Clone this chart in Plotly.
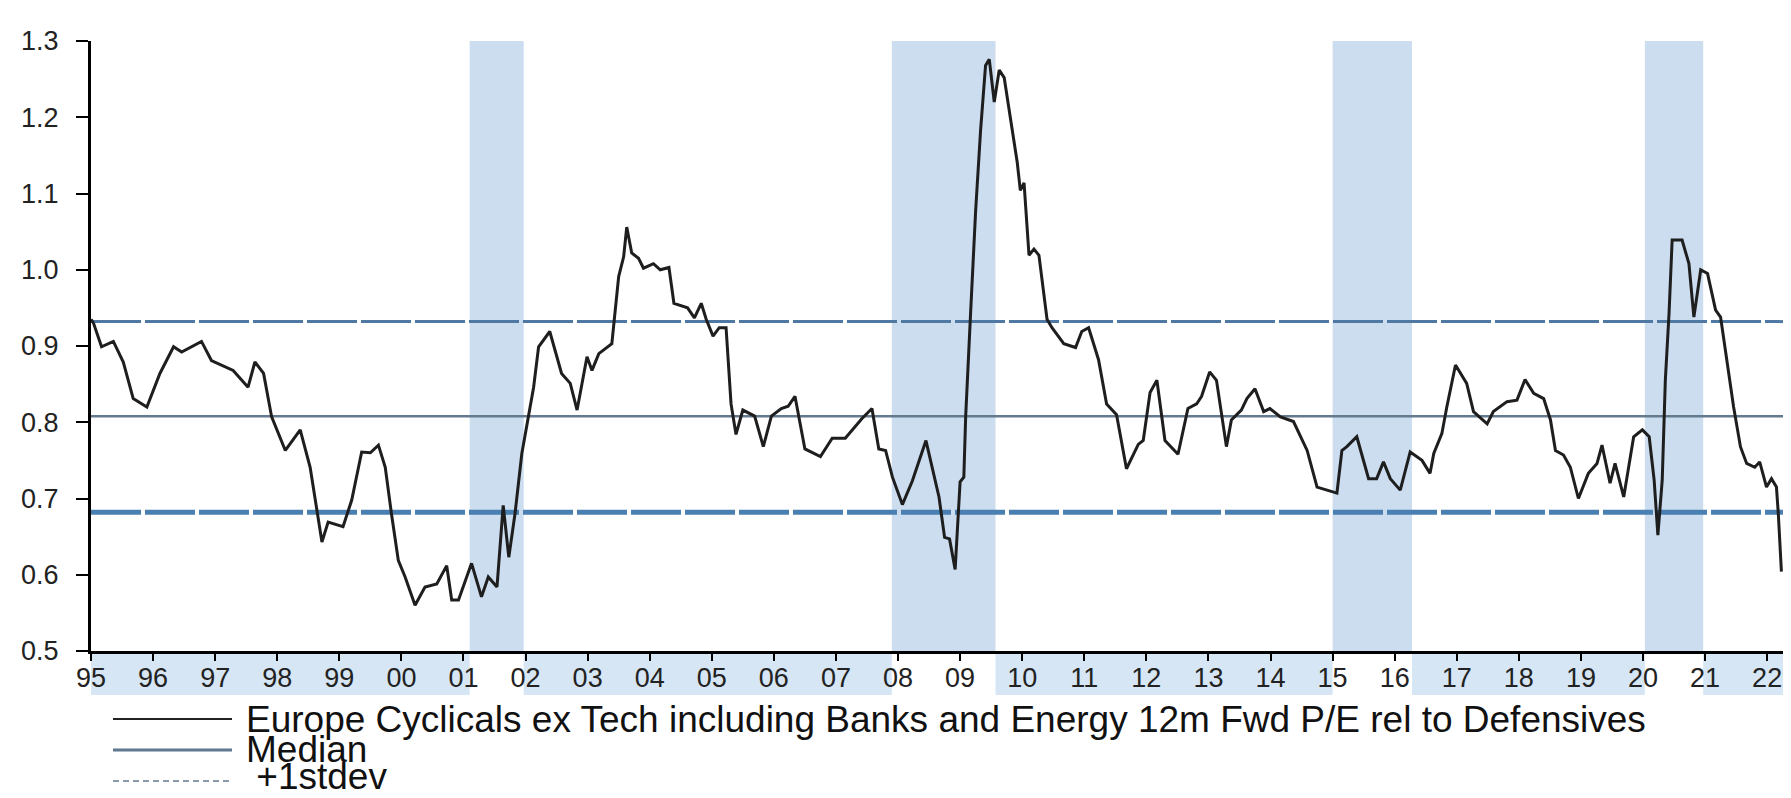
import plotly.graph_objects as go

# ---------------- data ----------------
dates = [
    1995.00, 1995.04, 1995.17, 1995.36, 1995.52, 1995.68, 1995.90, 1996.11, 1996.33, 1996.46,
    1996.78, 1996.94, 1997.29, 1997.53, 1997.64, 1997.78, 1997.91, 1998.13, 1998.37, 1998.53,
    1998.72, 1998.82, 1999.06, 1999.20, 1999.36, 1999.50, 1999.63, 1999.74, 1999.84, 1999.95,
    2000.06, 2000.22, 2000.38, 2000.57, 2000.73, 2000.81, 2000.92, 2001.13, 2001.29, 2001.40,
    2001.54, 2001.64, 2001.73, 2001.83, 2001.94, 2002.02, 2002.13, 2002.21, 2002.39, 2002.58,
    2002.72, 2002.83, 2002.99, 2003.07, 2003.18, 2003.39, 2003.44, 2003.50, 2003.58, 2003.63,
    2003.71, 2003.82, 2003.90, 2004.06, 2004.17, 2004.31, 2004.39, 2004.61, 2004.72, 2004.83,
    2004.91, 2005.02, 2005.12, 2005.23, 2005.31, 2005.39, 2005.50, 2005.69, 2005.83, 2005.96,
    2006.12, 2006.23, 2006.34, 2006.50, 2006.75, 2006.94, 2007.15, 2007.42, 2007.58, 2007.69,
    2007.80, 2007.91, 2008.07, 2008.23, 2008.45, 2008.66, 2008.75, 2008.83, 2008.92, 2009.00,
    2009.06, 2009.09, 2009.17, 2009.25, 2009.33, 2009.41, 2009.47, 2009.55, 2009.63, 2009.71,
    2009.81, 2009.92, 2009.97, 2010.03, 2010.11, 2010.19, 2010.27, 2010.40, 2010.48, 2010.67,
    2010.86, 2010.96, 2011.07, 2011.23, 2011.36, 2011.52, 2011.68, 2011.87, 2011.95, 2012.06,
    2012.17, 2012.30, 2012.51, 2012.67, 2012.81, 2012.89, 2013.02, 2013.13, 2013.29, 2013.37,
    2013.53, 2013.62, 2013.75, 2013.89, 2013.99, 2014.16, 2014.37, 2014.59, 2014.75, 2014.91,
    2015.07, 2015.15, 2015.23, 2015.39, 2015.58, 2015.71, 2015.82, 2015.93, 2016.09, 2016.25,
    2016.44, 2016.57, 2016.63, 2016.76, 2016.84, 2016.98, 2017.16, 2017.27, 2017.49, 2017.59,
    2017.81, 2017.97, 2018.10, 2018.24, 2018.40, 2018.51, 2018.59, 2018.72, 2018.83, 2018.96,
    2019.12, 2019.26, 2019.34, 2019.47, 2019.55, 2019.69, 2019.85, 2019.99, 2020.10, 2020.18,
    2020.24, 2020.31, 2020.36, 2020.42, 2020.47, 2020.63, 2020.74, 2020.82, 2020.93, 2021.04,
    2021.17, 2021.25, 2021.35, 2021.46, 2021.57, 2021.67, 2021.80, 2021.88, 2021.99, 2022.07,
    2022.15, 2022.18, 2022.23,
]
ratio = [
    0.935, 0.930, 0.899, 0.906, 0.879, 0.831, 0.820, 0.864, 0.899, 0.892,
    0.906, 0.881, 0.868, 0.846, 0.879, 0.864, 0.807, 0.763, 0.790, 0.741,
    0.643, 0.669, 0.663, 0.698, 0.761, 0.760, 0.770, 0.741, 0.680, 0.619,
    0.597, 0.560, 0.584, 0.588, 0.612, 0.567, 0.567, 0.615, 0.571, 0.597,
    0.584, 0.691, 0.623, 0.680, 0.759, 0.794, 0.846, 0.899, 0.919, 0.864,
    0.851, 0.816, 0.886, 0.868, 0.890, 0.903, 0.943, 0.991, 1.017, 1.056,
    1.022, 1.015, 1.002, 1.008, 1.000, 1.003, 0.956, 0.950, 0.937, 0.956,
    0.935, 0.913, 0.924, 0.924, 0.824, 0.784, 0.816, 0.808, 0.768, 0.808,
    0.818, 0.821, 0.834, 0.765, 0.755, 0.779, 0.779, 0.805, 0.818, 0.765,
    0.763, 0.728, 0.692, 0.723, 0.776, 0.702, 0.649, 0.647, 0.607, 0.722,
    0.728, 0.808, 0.945, 1.077, 1.183, 1.268, 1.276, 1.220, 1.262, 1.252,
    1.199, 1.141, 1.104, 1.114, 1.019, 1.027, 1.019, 0.935, 0.924, 0.903,
    0.898, 0.919, 0.924, 0.882, 0.824, 0.810, 0.739, 0.771, 0.776, 0.839,
    0.855, 0.776, 0.758, 0.818, 0.824, 0.834, 0.866, 0.855, 0.768, 0.803,
    0.816, 0.831, 0.844, 0.814, 0.818, 0.807, 0.801, 0.763, 0.715, 0.711,
    0.707, 0.763, 0.768, 0.781, 0.726, 0.726, 0.748, 0.726, 0.711, 0.761,
    0.750, 0.733, 0.759, 0.785, 0.820, 0.875, 0.851, 0.814, 0.798, 0.814,
    0.827, 0.829, 0.856, 0.838, 0.831, 0.803, 0.763, 0.757, 0.741, 0.700,
    0.733, 0.746, 0.770, 0.720, 0.746, 0.702, 0.781, 0.790, 0.781, 0.724,
    0.652, 0.724, 0.855, 0.943, 1.039, 1.039, 1.008, 0.938, 1.000, 0.995,
    0.947, 0.938, 0.882, 0.820, 0.768, 0.746, 0.741, 0.748, 0.715, 0.726,
    0.715, 0.680, 0.604,
]
median_value = 0.808
plus_1sd = 0.932
minus_1sd = 0.682

recession_start = [2001.10, 2007.90, 2015.00, 2020.03]
recession_end = [2001.97, 2009.57, 2016.28, 2020.97]

year_ticks = list(range(1995, 2023))
year_labels = [f"{y % 100:02d}" for y in year_ticks]
y_ticks = [0.5, 0.6, 0.7, 0.8, 0.9, 1.0, 1.1, 1.2, 1.3]

series_name = "Europe Cyclicals ex Tech including Banks and Energy 12m Fwd P/E rel to Defensives"
legend_labels = [series_name, "Median", " +1stdev"]

# ---------------- layout geometry ----------------
# the page body adds an 8px offset, so the figure is 8px smaller and
# every target pixel position below is given in window pixels
OFF = 8
W, H = 1791 - OFF, 798 - OFF
L, R, T, B = 91 - OFF, 4, 41 - OFF, 147
X_MIN, X_MAX = 1995.0, 2022.32
plot_w = W - L - R
plot_h = H - T - B

def px_x(p):   # window pixel -> paper x
    return (p - OFF - L) / plot_w

def px_y(p):   # window pixel -> paper y
    return (H - B - (p - OFF)) / plot_h

FONT = "Liberation Sans, Arial, sans-serif"

fig = go.Figure()

line_x = [X_MIN, X_MAX]
fig.add_trace(go.Scatter(x=line_x, y=[plus_1sd, plus_1sd], mode="lines",
                         line=dict(color="#4f79a2", width=3, dash="50px,4px"),
                         name="+1stdev", showlegend=False, hoverinfo="skip"))
fig.add_trace(go.Scatter(x=line_x, y=[minus_1sd, minus_1sd], mode="lines",
                         line=dict(color="#4a7fb2", width=5, dash="50px,4px"),
                         name="-1stdev", showlegend=False, hoverinfo="skip"))
fig.add_trace(go.Scatter(x=line_x, y=[median_value, median_value], mode="lines",
                         line=dict(color="#647a8e", width=2.5),
                         name="Median", showlegend=False, hoverinfo="skip"))
fig.add_trace(go.Scatter(x=dates, y=ratio, mode="lines",
                         line=dict(color="#1e1e1e", width=3),
                         name=series_name, showlegend=False))

shapes = []
# recession shading
for a, b in zip(recession_start, recession_end):
    shapes.append(dict(type="rect", xref="x", yref="paper", x0=a, x1=b, y0=0, y1=1,
                       fillcolor="#cbddef", line=dict(width=0), layer="below"))
# light band under x-axis (outside recessions)
band_edges = [X_MIN] + [v for pair in zip(recession_start, recession_end) for v in pair] + [X_MAX]
for i in range(0, len(band_edges), 2):
    shapes.append(dict(type="rect", xref="x", yref="paper", x0=band_edges[i], x1=band_edges[i + 1],
                       y0=px_y(695), y1=0, fillcolor="#d6e6f5", line=dict(width=0), layer="below"))

# legend (drawn manually to match the compact layout)
leg_line_y = [719, 750, 781]
leg_text_y = [719, 749, 776]
leg_styles = [dict(color="#222222", width=2),
              dict(color="#5f7890", width=3),
              dict(color="#8a9aaa", width=2, dash="6px,4px")]
for yy, st in zip(leg_line_y, leg_styles):
    shapes.append(dict(type="line", xref="paper", yref="paper", x0=px_x(113), x1=px_x(232),
                       y0=px_y(yy), y1=px_y(yy), line=st))

annotations = []
for yy, txt in zip(leg_text_y, legend_labels):
    annotations.append(dict(xref="paper", yref="paper", x=px_x(245), y=px_y(yy), text=txt,
                            showarrow=False, xanchor="left", yanchor="middle", borderpad=0,
                            font=dict(family=FONT, size=37, color="#111111")))

fig.update_layout(
    width=W, height=H, autosize=False,
    margin=dict(l=L, r=R, t=T, b=B, pad=0),
    paper_bgcolor="white", plot_bgcolor="white",
    shapes=shapes, annotations=annotations,
    showlegend=False,
    font=dict(family=FONT, color="#222222"),
)
fig.update_xaxes(range=[X_MIN, X_MAX], tickvals=year_ticks, ticktext=year_labels,
                 showgrid=False, zeroline=False, showline=True, linecolor="black", linewidth=3,
                 ticks="outside", ticklen=7, tickwidth=2, tickcolor="black",
                 tickfont=dict(family=FONT, size=27, color="#222222"), ticklabelstandoff=-6)
fig.update_yaxes(range=[0.5, 1.3], tickvals=y_ticks, tickformat=".1f",
                 showgrid=False, zeroline=False, showline=True, linecolor="black", linewidth=3,
                 ticks="outside", ticklen=12, tickwidth=2, tickcolor="black",
                 tickfont=dict(family=FONT, size=27, color="#222222"), ticklabelstandoff=12)

fig.write_html("out.html")
